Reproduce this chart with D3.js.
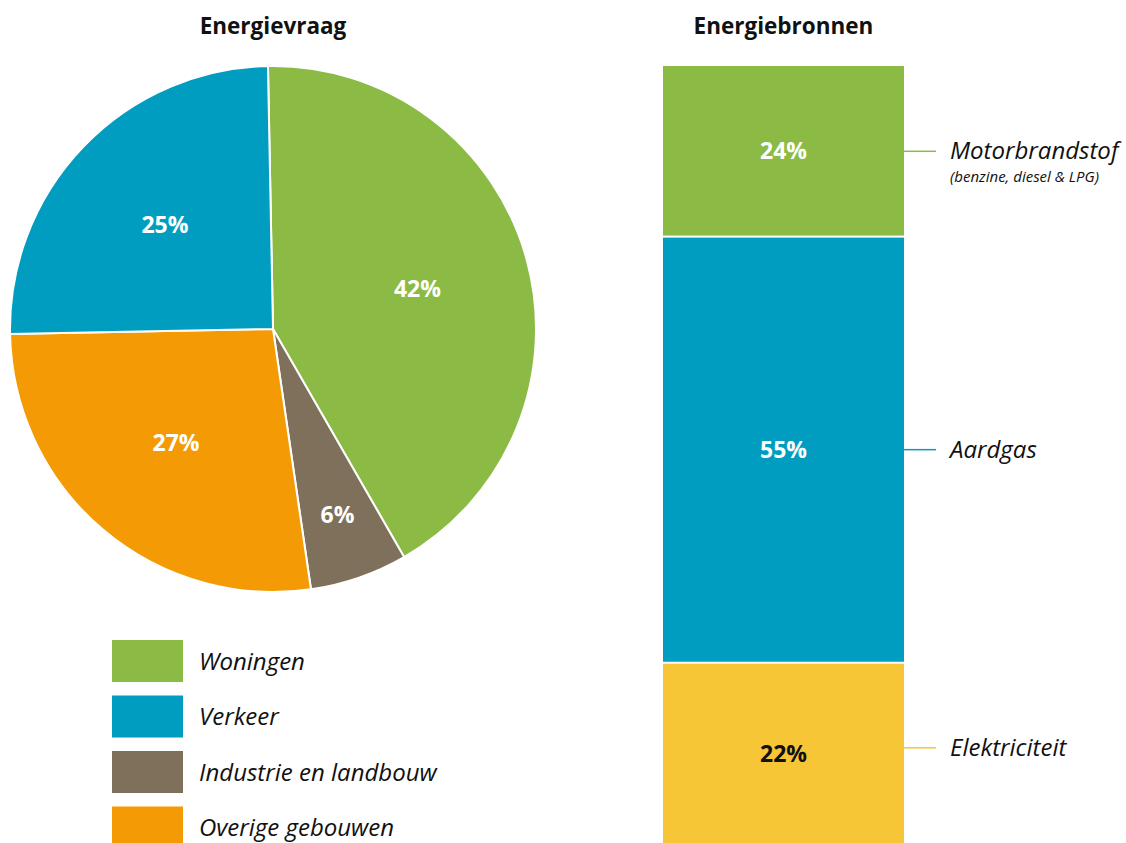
<!DOCTYPE html>
<html lang="nl">
<head>
  <meta charset="UTF-8">
  <title>Energievraag en energiebronnen</title>
  <script src="https://d3js.org/d3.v7.min.js"></script>
  <style>
    body { margin: 0; background: #fff; font-family: "Open Sans", "Noto Sans", Arial, sans-serif; }
    svg text { font-family: "Open Sans", "Noto Sans", Arial, sans-serif; }
  </style>
</head>
<body>
<div id="chart"></div>
<script>
// pie: energy demand per sector (%)
var sectors = ["Woningen", "Industrie en landbouw", "Overige gebouwen", "Verkeer"];
var sectorValues = [42, 6, 27, 25];
var sectorColors = ["#8bbb45", "#7f705b", "#f39a05", "#009dc1"];
// legend order
var legendOrder = ["Woningen", "Verkeer", "Industrie en landbouw", "Overige gebouwen"];

// stacked bar: energy sources, heights as drawn, labels as printed
var sources = ["Motorbrandstof", "Aardgas", "Elektriciteit"];
var sourceShares = [21.9, 54.7, 23.4];
var sourceLabels = ["24%", "55%", "22%"];
var sourceColors = ["#8bbb45", "#009dc1", "#f6c636"];
var sourceTextColors = ["#fff", "#fff", "#111"];

var width = 1126, height = 843;
var svg = d3.select("#chart").append("svg")
  .attr("width", width)
  .attr("height", height);

// ---- pie ----
var cx = 273, cy = 329, R = 263;
var startAngle = -1.1 * Math.PI / 180;

var pie = d3.pie().sort(null)
  .startAngle(startAngle)
  .endAngle(startAngle + 2 * Math.PI);
var arc = d3.arc().innerRadius(0).outerRadius(R);

var arcs = pie(sectorValues);
var pieG = svg.append("g").attr("transform", "translate(" + cx + "," + cy + ")");

pieG.selectAll("path")
  .data(arcs)
  .enter().append("path")
    .attr("d", arc)
    .attr("fill", function(d, i) { return sectorColors[i]; })
    .attr("stroke", "#fff")
    .attr("stroke-width", 2)
    .attr("stroke-linejoin", "round");

pieG.selectAll("text.pct")
  .data(arcs)
  .enter().append("text")
    .attr("class", "pct")
    .attr("transform", function(d) {
      var r = d.data < 10 ? R * 0.75 : R * 0.57;
      var c = d3.arc().innerRadius(r).outerRadius(r).centroid(d);
      return "translate(" + c[0] + "," + c[1] + ")";
    })
    .attr("text-anchor", "middle")
    .attr("dy", "0.35em")
    .attr("fill", "#fff")
    .attr("font-weight", "bold")
    .attr("font-size", "23px")
    .text(function(d) { return d.data + "%"; });

svg.append("text")
  .attr("x", cx).attr("y", 34)
  .attr("text-anchor", "middle")
  .attr("font-weight", "bold")
  .attr("font-size", "22.5px")
  .attr("fill", "#111")
  .text("Energievraag");

// ---- legend ----
var legendY = d3.scaleBand()
  .domain(legendOrder)
  .range([640, 848.5])
  .paddingInner(0.243);

var legend = svg.append("g");
var items = legend.selectAll("g")
  .data(legendOrder)
  .enter().append("g")
    .attr("transform", function(d) { return "translate(112," + legendY(d) + ")"; });

items.append("rect")
  .attr("width", 71)
  .attr("height", legendY.bandwidth())
  .attr("fill", function(d) { return sectorColors[sectors.indexOf(d)]; });

items.append("text")
  .attr("x", 87)
  .attr("y", legendY.bandwidth() / 2)
  .attr("dy", "0.36em")
  .attr("font-style", "italic")
  .attr("font-size", "24px")
  .attr("fill", "#111")
  .text(function(d) { return d; });

// ---- stacked bar ----
var barX = 663, barW = 241;
var cum = d3.cumsum(sourceShares);
var yScale = d3.scaleLinear()
  .domain([0, d3.sum(sourceShares)])
  .range([66, 845]);

var segs = sources.map(function(s, i) {
  return { name: s, y0: cum[i] - sourceShares[i], y1: cum[i], i: i };
});

var bar = svg.append("g");
bar.selectAll("rect")
  .data(segs)
  .enter().append("rect")
    .attr("x", barX)
    .attr("width", barW)
    .attr("y", function(d) { return yScale(d.y0) + (d.i > 0 ? 1 : 0); })
    .attr("height", function(d) { return yScale(d.y1) - yScale(d.y0) - (d.i > 0 ? 1 : 0) - (d.i < segs.length - 1 ? 1 : 0); })
    .attr("fill", function(d) { return sourceColors[d.i]; });

bar.selectAll("text.pct")
  .data(segs)
  .enter().append("text")
    .attr("class", "pct")
    .attr("x", barX + barW / 2)
    .attr("y", function(d) { return (yScale(d.y0) + yScale(d.y1)) / 2; })
    .attr("dy", "0.35em")
    .attr("text-anchor", "middle")
    .attr("font-weight", "bold")
    .attr("font-size", "23px")
    .attr("fill", function(d) { return sourceTextColors[d.i]; })
    .text(function(d) { return sourceLabels[d.i]; });

// leader lines and labels
var lineY = function(d) { return (yScale(d.y0) + yScale(d.y1)) / 2 - (d.i === 2 ? 6 : 0); };

bar.selectAll("line")
  .data(segs)
  .enter().append("line")
    .attr("x1", barX + barW).attr("x2", barX + barW + 32)
    .attr("y1", lineY).attr("y2", lineY)
    .attr("stroke", function(d) { return sourceColors[d.i]; })
    .attr("stroke-width", 1.5);

bar.selectAll("text.name")
  .data(segs)
  .enter().append("text")
    .attr("class", "name")
    .attr("x", 950)
    .attr("y", lineY)
    .attr("dy", "0.33em")
    .attr("font-style", "italic")
    .attr("font-size", "24px")
    .attr("fill", "#111")
    .text(function(d) { return d.name; });

svg.append("text")
  .attr("x", 950)
  .attr("y", lineY(segs[0]) + 31)
  .attr("font-style", "italic")
  .attr("font-size", "15px")
  .attr("fill", "#111")
  .text("(benzine, diesel & LPG)");

svg.append("text")
  .attr("x", barX + barW / 2).attr("y", 34)
  .attr("text-anchor", "middle")
  .attr("font-weight", "bold")
  .attr("font-size", "22.5px")
  .attr("fill", "#111")
  .text("Energiebronnen");
</script>
</body>
</html>
